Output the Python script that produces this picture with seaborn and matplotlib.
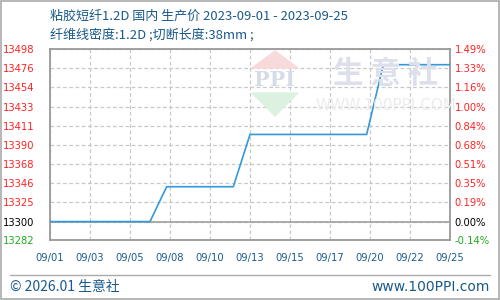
import matplotlib
matplotlib.use("Agg")
import matplotlib.pyplot as plt
from matplotlib.patches import Polygon, Rectangle
import numpy as np
import pandas as pd
import seaborn as sns

# ---- data ----
dates = ["2023-09-01", "2023-09-04", "2023-09-05", "2023-09-06", "2023-09-07",
         "2023-09-08", "2023-09-11", "2023-09-12", "2023-09-13", "2023-09-14",
         "2023-09-15", "2023-09-18", "2023-09-19", "2023-09-20", "2023-09-21",
         "2023-09-22", "2023-09-25"]
prices = [13300, 13300, 13300, 13300, 13300,
          13340, 13340, 13340, 13400, 13400,
          13400, 13400, 13400, 13400, 13480,
          13480, 13480]
x_labels = ["09/01", "09/03", "09/05", "09/08", "09/10", "09/13",
            "09/15", "09/17", "09/20", "09/22", "09/25"]
left_labels = ["13282", "13300", "13325", "13346", "13368", "13390",
               "13411", "13433", "13454", "13476", "13498"]
right_labels = ["-0.14%", "0.00%", "0.19%", "0.35%", "0.51%", "0.68%",
                "0.84%", "1.00%", "1.16%", "1.33%", "1.49%"]
base_price = 13300
title1 = "粘胶短纤1.2D 国内 生产价 2023-09-01 - 2023-09-25"
title2 = "纤维线密度:1.2D ;切断长度:38mm ;"
footer_left = "© 2026.01 生意社"
footer_right = "www.100PPI.com"

sns.set_style("white")
plt.rcParams['font.family'] = ['DejaVu Sans', 'Noto Sans CJK SC']
cjk = ['Noto Sans CJK SC', 'DejaVu Sans']

df = pd.DataFrame({"date": pd.to_datetime(dates), "price": prices})

W, H = 500, 300
fig = plt.figure(figsize=(5, 3), dpi=100)
fig.patch.set_facecolor("white")
L, R, T, B = 50, 450, 49, 240
ax = fig.add_axes([L / W, 1 - B / H, (R - L) / W, (B - T) / H])

x0 = pd.Timestamp("2023-09-01")
x1 = pd.Timestamp("2023-09-25")
ax.set_xlim(x0, x1)
ymax = 13498
step = (ymax - base_price) / 9
ymin = base_price - step * 0.96
ax.set_ylim(ymin, ymax)

# ticks
xt = pd.date_range(x0, x1, periods=len(x_labels))
ax.set_xticks(xt)
ax.set_xticklabels(x_labels)
yt = [ymin] + [base_price + step * k for k in range(10)]
ax.set_yticks(yt)
ax.set_yticklabels(left_labels)

ax.grid(True, color="#c8c8c8", linestyle=(0, (3, 2)), linewidth=0.9)
ax.axhline(base_price, color="#a0a0a0", linewidth=1.2, zorder=1)

# watermark
def px(x, y):
    return (x, H - y)
wm = [
    Polygon([px(275, 51), px(252, 68), px(298, 68)], closed=True, color="#f9dada", transform=None, zorder=0),
    Polygon([px(252, 93), px(298, 93), px(275, 116)], closed=True, color="#dcf1df", transform=None, zorder=0),
]
for p in wm:
    fig.patches.append(p)
fig.text(275 / W, 1 - 80 / H, "PPI", fontsize=15, fontweight="bold", color="#d6dbe8",
         ha="center", va="center", family="DejaVu Serif", zorder=0)
fig.text(386 / W, 1 - 74 / H, "生 意 社", fontsize=22, fontweight="bold", color="#dde0ea",
         ha="center", va="center", family=cjk, zorder=0)
fig.text(386 / W, 1 - 106 / H, "WWW.100PPI.COM", fontsize=11, color="#ececec",
         ha="center", va="center", zorder=0)

sns.lineplot(data=df, x="date", y="price", ax=ax, color="#3399dd", linewidth=1.2, zorder=3)
ax.set_xlabel("")
ax.set_ylabel("")
ax.patch.set_alpha(0)

for s in ax.spines.values():
    s.set_color("#999999")
    s.set_linewidth(1.3)

ax.tick_params(axis="both", length=0, labelsize=7.2)
ax.tick_params(axis="x", pad=9, colors="#1a5a8a")
ax.tick_params(axis="y", pad=11)
left_colors = ["#22aa22", "#000000"] + ["#ff2222"] * 9
for lab, c in zip(ax.get_yticklabels(), left_colors):
    lab.set_color(c)

ax2 = ax.twinx()
ax2.set_ylim(ax.get_ylim())
ax2.set_yticks(yt)
ax2.set_yticklabels(right_labels)
ax2.tick_params(axis="y", length=0, labelsize=7.2, pad=3.5)
for s in ax2.spines.values():
    s.set_visible(False)
for lab, c in zip(ax2.get_yticklabels(), left_colors):
    lab.set_color(c)

title_color = "#1a5a8a"
fig.text(50 / W, 1 - 16 / H, title1, fontsize=9.4, color=title_color, ha="left", va="center", family=cjk)
fig.text(50 / W, 1 - 35 / H, title2, fontsize=9.4, color=title_color, ha="left", va="center", family=cjk)

# footer
fig.add_artist(plt.Line2D([10 / W, 490 / W], [1 - 275 / H, 1 - 275 / H], color="#aaaaaa", linewidth=1))
fig.text(10 / W, 1 - 287 / H, footer_left, fontsize=10, color=title_color, ha="left", va="center", family=cjk)
fig.text(490 / W, 1 - 287 / H, footer_right, fontsize=10, color=title_color, ha="right", va="center")
fig.add_artist(Rectangle((0.001, 0.002), 0.997, 0.995, fill=False, edgecolor="#aaaaaa",
                         linewidth=1.2, transform=fig.transFigure))

fig.savefig("out.png", dpi=100)
